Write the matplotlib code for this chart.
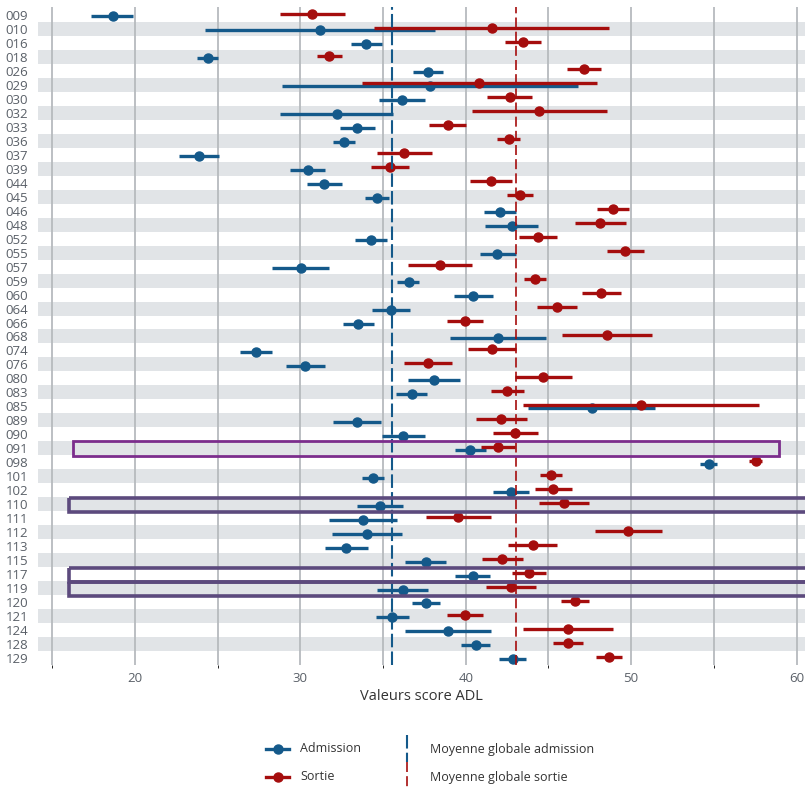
import matplotlib.pyplot as plt
import numpy as np
from matplotlib.lines import Line2D
from matplotlib.patches import Rectangle

plt.rcParams['font.family'] = ['Open Sans', 'DejaVu Sans']

units = ['009', '010', '016', '018', '026', '029', '030', '032', '033', '036',
         '037', '039', '044', '045', '046', '048', '052', '055', '057', '059',
         '060', '064', '066', '068', '074', '076', '080', '083', '085', '089',
         '090', '091', '098', '101', '102', '110', '111', '112', '113', '115',
         '117', '119', '120', '121', '124', '128', '129']

# score ADL à l'admission : moyenne, borne basse, borne haute
adm = [18.65, 31.18, 33.97, 24.39, 37.74, 37.84, 36.12, 32.19, 33.44, 32.64,
       23.85, 30.44, 31.43, 34.61, 42.10, 42.81, 34.25, 41.90, 30.01, 36.55,
       40.45, 35.50, 33.46, 41.93, 27.30, 30.28, 38.08, 36.73, 47.61, 33.44,
       36.18, 40.25, 54.70, 34.41, 42.71, 34.81, 33.77, 34.01, 32.76, 37.57,
       40.42, 36.18, 37.59, 35.56, 38.92, 40.60, 42.83]
adm_lo = [17.34, 24.23, 33.04, 23.77, 36.83, 28.91, 34.77, 28.77, 32.39, 31.99,
          22.66, 29.37, 30.38, 33.91, 41.12, 41.18, 33.30, 40.86, 28.26, 35.86,
          39.30, 34.31, 32.55, 39.05, 26.35, 29.11, 36.49, 35.78, 43.78, 31.99,
          34.91, 39.35, 54.16, 33.75, 41.62, 33.44, 31.73, 31.89, 31.49, 36.30,
          39.37, 34.65, 36.73, 34.55, 36.30, 39.73, 42.02]
adm_hi = [19.90, 38.14, 34.95, 25.04, 38.64, 46.78, 37.53, 35.62, 34.51, 33.30,
          25.08, 31.49, 32.50, 35.38, 43.04, 44.39, 35.22, 43.04, 31.75, 37.19,
          41.62, 36.65, 34.45, 44.85, 28.30, 31.49, 39.68, 37.68, 51.46, 34.87,
          37.53, 41.20, 55.20, 35.06, 43.84, 36.22, 35.82, 36.16, 34.07, 38.80,
          41.45, 37.74, 38.46, 36.57, 41.52, 41.46, 43.64]

# score ADL à la sortie
sor = [30.72, 41.56, 43.44, 31.73, 47.17, 40.82, 42.67, 44.45, 38.90, 42.59,
       36.26, 35.42, 41.54, 43.26, 48.92, 48.11, 44.35, 49.65, 38.44, 44.17,
       48.19, 45.49, 39.95, 48.54, 41.56, 37.70, 44.69, 42.49, 50.61, 42.13,
       42.99, 41.93, 57.52, 45.13, 45.29, 45.94, 39.55, 49.83, 44.04, 42.21,
       43.80, 42.73, 46.60, 39.95, 46.16, 46.18, 48.64]
sor_lo = [28.77, 34.45, 42.35, 30.98, 46.14, 33.71, 41.30, 40.36, 37.79, 41.90,
          34.61, 34.27, 40.25, 42.51, 47.93, 46.60, 43.24, 48.51, 36.52, 43.52,
          47.05, 44.30, 38.88, 45.84, 40.15, 36.24, 42.99, 41.50, 43.48, 40.60,
          41.62, 40.92, 57.14, 44.49, 44.20, 44.41, 37.57, 47.83, 42.57, 40.96,
          42.77, 41.25, 45.76, 38.88, 43.44, 45.29, 47.85]
sor_hi = [32.70, 48.66, 44.57, 32.50, 48.19, 47.95, 43.98, 48.56, 40.01, 43.28,
          37.98, 36.58, 42.81, 44.04, 49.89, 49.66, 45.50, 50.77, 40.37, 44.85,
          49.37, 46.70, 41.02, 51.28, 43.04, 39.17, 46.44, 43.50, 57.73, 43.68,
          44.39, 42.97, 57.89, 45.80, 46.42, 47.47, 41.52, 51.86, 45.53, 43.48,
          44.85, 44.24, 47.47, 41.02, 48.88, 47.07, 49.46]

mean_adm = 35.52
mean_sor = 43.03

# unités mises en évidence
highlight = ['091', '110', '117', '119']

BLUE = '#14598A'
RED = '#A50D0D'
TXT = '#5A6068'

fig = plt.figure(figsize=(8.05, 7.89), dpi=100)
ax = fig.add_axes([38 / 805, 1 - 665 / 789, 1 - 38 / 805, (665 - 7) / 789])

n = len(units)
rows = np.arange(n)

# bandes grises une ligne sur deux
for r in rows[1::2]:
    ax.axhspan(r - 0.5, r + 0.5, color='#E1E4E7', lw=0, zorder=0)

ax.set_xlim(14.14, 60.51)
ax.set_ylim(n - 0.5, -0.57)
ax.set_xticks([20, 30, 40, 50, 60])
ax.set_xticks([15, 25, 35, 45, 55], minor=True)
ax.grid(axis='x', which='both', color='#B6BABE', lw=1.3, zorder=1)
ax.set_axisbelow(True)
ax.set_yticks(rows)
ax.set_yticklabels(units)
ax.tick_params(axis='both', length=0, labelsize=9.5, colors=TXT)
ax.tick_params(axis='y', pad=7)
ax.tick_params(axis='x', pad=5)
for s in ax.spines.values():
    s.set_visible(False)
ax.set_xlabel('Valeurs score ADL', fontsize=10.5, color='#333333', labelpad=3)

adm = np.array(adm)
sor = np.array(sor)
ax.errorbar(adm, rows + 0.1, xerr=[adm - np.array(adm_lo), np.array(adm_hi) - adm],
            fmt='o', color=BLUE, ms=6.5, elinewidth=2.4, capsize=0, zorder=3)
ax.errorbar(sor, rows - 0.1, xerr=[sor - np.array(sor_lo), np.array(sor_hi) - sor],
            fmt='o', color=RED, ms=6.5, elinewidth=2.4, capsize=0, zorder=4)

ax.axvline(mean_adm, color=BLUE, lw=1.5, dashes=(6.5, 2), zorder=5)
ax.axvline(mean_sor, color=RED, lw=1.2, dashes=(6, 2.5), zorder=5)

# cadres autour des unités mises en évidence
for u in highlight:
    r = units.index(u)
    if u == '091':
        rect = Rectangle((16.27, r - 0.55), 58.96 - 16.27, 1.1, fill=False,
                         ec='#7B2D8C', lw=2, zorder=6)
    else:
        rect = Rectangle((16.03, r - 0.45), 50, 1.0, fill=False,
                         ec='#5C4A7D', lw=2.6, zorder=6, clip_on=True)
    ax.add_patch(rect)

# légende
def fx(px):
    return px / 805

def fy(py):
    return 1 - py / 789

for py, col, lab in [(749, BLUE, 'Admission'), (777, RED, 'Sortie')]:
    fig.add_artist(Line2D([fx(266), fx(289)], [fy(py), fy(py)], color=col, lw=2.4))
    fig.add_artist(Line2D([fx(277.5)], [fy(py)], color=col, marker='o', ms=6.5, lw=0))
    fig.text(fx(300), fy(py), lab, fontsize=9, color='#333333', va='center')

fig.add_artist(Line2D([fx(407), fx(407)], [fy(735), fy(762)], color=BLUE, lw=1.5,
                      dashes=(6.5, 2)))
fig.add_artist(Line2D([fx(407), fx(407)], [fy(762), fy(789)], color=RED, lw=1.2,
                      dashes=(6, 2.5)))
fig.text(fx(430), fy(749), 'Moyenne globale admission', fontsize=9, color='#333333',
         va='center')
fig.text(fx(430), fy(777), 'Moyenne globale sortie', fontsize=9, color='#333333',
         va='center')

fig.savefig('out.png', dpi=100)
